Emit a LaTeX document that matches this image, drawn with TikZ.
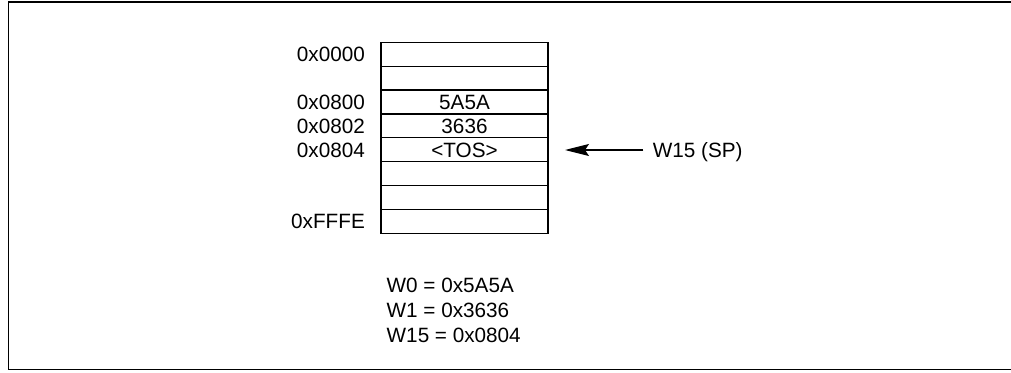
\documentclass[tikz,border=0pt]{standalone}
\usepackage{fontspec}
\setmainfont{Liberation Sans}
\usetikzlibrary{arrows.meta}
\begin{document}
\begin{tikzpicture}[x=1pt,y=-1pt,
  every node/.style={font=\fontsize{20.7pt}{24pt}\selectfont, inner sep=0pt, text height=14.8pt, text depth=0pt},
  cell/.style={draw, line width=1.2pt, minimum width=167pt, minimum height=23.875pt},
  addr/.style={anchor=east},
  reg/.style={anchor=west},
  arr/.style={line width=1.2pt, -{Stealth[length=24pt, width=12pt, inset=4pt]}},
  frame/.style={line width=1.5pt}]
\useasboundingbox (0,0) rectangle (1011,372);
\fill[white] (0,0) rectangle (1011,372);
\draw[frame] (1011,2) -- (8.3,2) -- (8.3,369.5) -- (1011,369.5);
% stack rows
\foreach \i/\t in {1/,2/,3/5A5A,4/3636,5/{<TOS>},6/,7/,8/} {
  \node[cell] (r\i) at (464.5, {42.3 + 23.875*(\i-0.5)}) {\t};
}
% address labels
\node[addr] (a1) at (365, {42.3 + 23.875*0.5}) {0x0000};
\node[addr] (a3) at (365, {42.3 + 23.875*2.5}) {0x0800};
\node[addr] (a4) at (365, {42.3 + 23.875*3.5}) {0x0802};
\node[addr] (a5) at (365, {42.3 + 23.875*4.5}) {0x0804};
\node[addr] (a8) at (365, {42.3 + 23.875*7.5}) {0xFFFE};
% stack pointer
\node[anchor=west, inner xsep=9.4pt] (sp) at (643.3,150) {W15 (SP)};
\coordinate (tip) at (565,150);
\draw[arr] (sp.west) -- (tip);
% register values
\node[reg] (w0) at (386.5,284.9) {W0 = 0x5A5A};
\node[reg] (w1) at (386.5,310.3) {W1 = 0x3636};
\node[reg] (w15) at (386.5,335.3) {W15 = 0x0804};
\end{tikzpicture}
\end{document}
